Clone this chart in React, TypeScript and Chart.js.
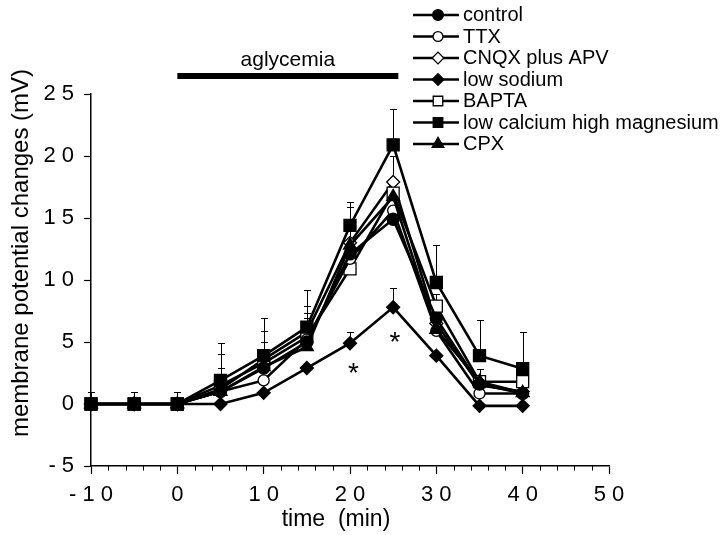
import React, { useEffect, useRef } from "react";
import { Chart, registerables } from "chart.js";

Chart.register(...registerables);

// ---------------- data ----------------
const timeMin = [-10, -5, 0, 5, 10, 15, 20, 25, 30, 35, 40];

const controlValues = [0, 0, 0, 1.0, 2.9, 5.0, 12.1, 14.9, 6.9, 1.6, 0.85];
const ttxValues = [0, 0, 0, 1.0, 1.9, 5.2, 11.7, 15.6, 5.9, 0.85, 0.85];
const cnqxApvValues = [0, 0, 0, 1.2, 3.6, 5.8, 13.0, 17.9, 6.5, 1.5, 1.0];
const lowSodiumValues = [0, 0, 0, 0, 0.9, 2.9, 4.9, 7.8, 3.9, -0.15, -0.15];
const baptaValues = [0, 0, 0, 1.5, 3.3, 5.4, 10.9, 17.0, 7.9, 1.8, 1.8];
const lowCaHighMgValues = [0, 0, 0, 1.9, 3.9, 6.2, 14.4, 20.9, 9.8, 3.9, 2.85];
const cpxValues = [0, 0, 0, 1.0, 3.0, 4.6, 12.8, 16.7, 6.0, 1.8, 0.9];

// upper error bars (SEM), null = none drawn
const controlErr = [null, null, null, 1.9, 2.1, 1.9, null, null, null, null, null];
const ttxErr = [null, null, null, null, null, null, null, null, null, null, null];
const cnqxApvErr = [null, null, null, null, null, 2.1, 2.9, 2.1, null, null, null];
const lowSodiumErr = [null, null, null, null, null, null, 0.9, 1.55, null, null, null];
const baptaErr = [null, null, null, 2.5, 2.6, 1.9, null, null, 1.0, 1.05, null];
const lowCaHighMgErr = [1.0, 1.0, 1.0, 3.0, 3.0, 3.0, 1.9, 2.9, 3.05, 2.9, 2.95];
const cpxErr = [null, null, null, null, null, null, null, null, null, null, null];

const seriesLabels = [
  "control",
  "TTX",
  "CNQX plus APV",
  "low sodium",
  "BAPTA",
  "low calcium high magnesium",
  "CPX",
];

const xTickValues = [-10, 0, 10, 20, 30, 40, 50];
const yTickValues = [-5, 0, 5, 10, 15, 20, 25];

const aglycemiaLabel = "aglycemia";
const aglycemiaStart = 0;
const aglycemiaEnd = 25.6;
const aglycemiaLevel = 26.45;

const asteriskX = [20.4, 25.2];
const asteriskY = [3.05, 5.6];

const xTitle = "time  (min)";
const yTitle = "membrane potential changes (mV)";

// ---------------- styles ----------------
const FONT = "'Liberation Sans', Arial, Helvetica, sans-serif";
const TICK_LETTER_SPACING = 6;

const seriesValues = [
  controlValues,
  ttxValues,
  cnqxApvValues,
  lowSodiumValues,
  baptaValues,
  lowCaHighMgValues,
  cpxValues,
];
const seriesErr = [controlErr, ttxErr, cnqxApvErr, lowSodiumErr, baptaErr, lowCaHighMgErr, cpxErr];
const markerStyle = ["circle", "circle", "rectRot", "rectRot", "rect", "rect", "triangle"];
const markerFilled = [true, false, false, true, false, true, true];
const markerRadius = [6, 5.5, 6.5, 6.5, 8.5, 8.5, 7.5];
const drawOrder = [2, 4, 6, 1, 5, 0, 3];

function drawMarker(ctx: CanvasRenderingContext2D, style: string, x: number, y: number, r: number, filled: boolean) {
  ctx.beginPath();
  if (style === "circle") {
    ctx.arc(x, y, r, 0, Math.PI * 2);
  } else if (style === "rect") {
    const s = Math.SQRT1_2 * r;
    ctx.rect(x - s, y - s, 2 * s, 2 * s);
  } else if (style === "rectRot") {
    ctx.moveTo(x - r, y);
    ctx.lineTo(x, y - r);
    ctx.lineTo(x + r, y);
    ctx.lineTo(x, y + r);
    ctx.closePath();
  } else if (style === "triangle") {
    ctx.moveTo(x, y - r);
    ctx.lineTo(x + Math.sin((2 * Math.PI) / 3) * r, y - Math.cos((2 * Math.PI) / 3) * r);
    ctx.lineTo(x + Math.sin((4 * Math.PI) / 3) * r, y - Math.cos((4 * Math.PI) / 3) * r);
    ctx.closePath();
  }
  ctx.fillStyle = filled ? "#000" : "#fff";
  ctx.fill();
  ctx.lineWidth = 1.3;
  ctx.strokeStyle = "#000";
  ctx.stroke();
}

const decorPlugin = {
  id: "decor",
  beforeDatasetsDraw(chart: any) {
    const ctx = chart.ctx as CanvasRenderingContext2D;
    const xs = chart.scales.x;
    const ys = chart.scales.y;
    ctx.save();
    ctx.strokeStyle = "#000";
    ctx.lineWidth = 1;
    seriesErr.forEach((errs, si) => {
      errs.forEach((e, i) => {
        if (e == null) return;
        const v = seriesValues[si][i];
        const px = Math.round(xs.getPixelForValue(timeMin[i])) + 0.5;
        const p0 = ys.getPixelForValue(v);
        const p1 = Math.round(ys.getPixelForValue(v + e)) + 0.5;
        ctx.beginPath();
        ctx.moveTo(px, p0);
        ctx.lineTo(px, p1);
        ctx.moveTo(px - 3.5, p1);
        ctx.lineTo(px + 3.5, p1);
        ctx.stroke();
      });
    });
    ctx.restore();
  },
  afterDatasetsDraw(chart: any) {
    // tick labels (z > 0) are drawn after this hook: widen their letter spacing
    (chart.ctx as any).letterSpacing = TICK_LETTER_SPACING + "px";
  },
  afterDraw(chart: any) {
    const ctx = chart.ctx as CanvasRenderingContext2D;
    (ctx as any).letterSpacing = "0px";
    const xs = chart.scales.x;
    const ys = chart.scales.y;
    ctx.save();
    (ctx as any).letterSpacing = "0px";
    ctx.fillStyle = "#000";
    ctx.strokeStyle = "#000";

    // minor ticks on the x axis
    const axisY = chart.chartArea.bottom;
    ctx.lineWidth = 1;
    for (let v = -10; v <= 50; v += 2) {
      if (v % 10 === 0) continue;
      const px = Math.round(xs.getPixelForValue(v)) + 0.5;
      ctx.beginPath();
      ctx.moveTo(px, axisY);
      ctx.lineTo(px, axisY + 4.5);
      ctx.stroke();
    }

    // aglycemia bar
    const bx0 = xs.getPixelForValue(aglycemiaStart);
    const bx1 = xs.getPixelForValue(aglycemiaEnd);
    const by = ys.getPixelForValue(aglycemiaLevel);
    ctx.lineWidth = 6;
    ctx.lineCap = "butt";
    ctx.beginPath();
    ctx.moveTo(bx0, by);
    ctx.lineTo(bx1, by);
    ctx.stroke();
    ctx.font = `21px ${FONT}`;
    ctx.textAlign = "center";
    ctx.textBaseline = "alphabetic";
    ctx.fillText(aglycemiaLabel, (bx0 + bx1) / 2, by - 9.6);

    // asterisks
    ctx.font = `28px ${FONT}`;
    asteriskX.forEach((ax, i) => {
      ctx.fillText("*", xs.getPixelForValue(ax), ys.getPixelForValue(asteriskY[i]) + 16);
    });

    // axis titles
    ctx.font = `23px ${FONT}`;
    ctx.textBaseline = "middle";
    ctx.fillText(xTitle, 336, 520);
    ctx.save();
    ctx.font = `24px ${FONT}`;
    ctx.translate(21, 253);
    ctx.rotate(-Math.PI / 2);
    ctx.fillText(yTitle, 0, 0);
    ctx.restore();

    // legend
    const lx0 = 413;
    const lx1 = 459;
    const mx = 438;
    const tx = 463;
    ctx.font = `20px ${FONT}`;
    seriesLabels.forEach((label, i) => {
      const y = 15 + i * 21.5;
      ctx.lineWidth = 2.5;
      ctx.strokeStyle = "#000";
      ctx.beginPath();
      ctx.moveTo(lx0, y);
      ctx.lineTo(lx1, y);
      ctx.stroke();
      drawMarker(ctx, markerStyle[i], mx, y, Math.min(markerRadius[i], 7.5) * 0.9, markerFilled[i]);
      ctx.fillStyle = "#000";
      ctx.textAlign = "left";
      ctx.textBaseline = "middle";
      ctx.fillText(label, tx, y + 0.5);
    });
    ctx.restore();
  },
};

export default function App() {
  const ref = useRef<HTMLCanvasElement | null>(null);

  useEffect(() => {
    const canvas = ref.current;
    if (!canvas) return;
    const datasets = seriesLabels.map((label, si) => ({
      label,
      data: timeMin.map((x, i) => ({ x, y: seriesValues[si][i] })),
      borderColor: "#000",
      borderWidth: 2.6,
      backgroundColor: markerFilled[si] ? "#000" : "#fff",
      pointStyle: markerStyle[si],
      pointRadius: markerRadius[si],
      pointBackgroundColor: markerFilled[si] ? "#000" : "#fff",
      pointBorderColor: "#000",
      pointBorderWidth: 1.3,
      tension: 0,
      order: drawOrder[si],
      clip: false,
    }));

    const chart = new Chart(canvas, {
      type: "line",
      data: { datasets } as any,
      options: {
        animation: false,
        responsive: false,
        devicePixelRatio: 1,
        events: [],
        layout: { padding: { left: 0, top: 94, right: 111, bottom: 0 } },
        plugins: {
          legend: { display: false },
          tooltip: { enabled: false },
          title: { display: false },
        },
        scales: {
          x: {
            type: "linear",
            min: -10,
            max: 50,
            afterBuildTicks: (s: any) => {
              s.ticks = xTickValues.map((v) => ({ value: v }));
            },
            afterFit: (s: any) => {
              s.height = 69;
            },
            ticks: {
              z: 1,
              color: "#000",
              padding: 8,
              labelOffset: 3,
              autoSkip: false,
              maxRotation: 0,
              font: { family: FONT, size: 22 },
              callback: (v: any) => String(v),
            },
            grid: {
              display: true,
              drawOnChartArea: false,
              drawTicks: true,
              tickLength: 8,
              color: "#000",
              tickWidth: 1.2,
            },
            border: { display: true, color: "#000", width: 1.5 },
            title: { display: false },
          },
          y: {
            type: "linear",
            min: -5,
            max: 25,
            afterBuildTicks: (s: any) => {
              s.ticks = yTickValues.map((v) => ({ value: v }));
            },
            afterFit: (s: any) => {
              s.width = 91;
            },
            ticks: {
              z: 1,
              color: "#000",
              padding: 4,
              autoSkip: false,
              font: { family: FONT, size: 22 },
              callback: (v: any) => String(v),
            },
            grid: {
              display: true,
              drawOnChartArea: false,
              drawTicks: true,
              tickLength: 7,
              color: "#000",
              tickWidth: 1.2,
            },
            border: { display: true, color: "#000", width: 1.5 },
            title: { display: false },
          },
        },
      } as any,
      plugins: [decorPlugin as any],
    });
    return () => chart.destroy();
  }, []);

  return (
    <div style={{ position: "fixed", left: 0, top: 0, width: 720, height: 535, background: "#fff" }}>
      <canvas ref={ref} width={720} height={535} style={{ display: "block", width: 720, height: 535 }} />
    </div>
  );
}
